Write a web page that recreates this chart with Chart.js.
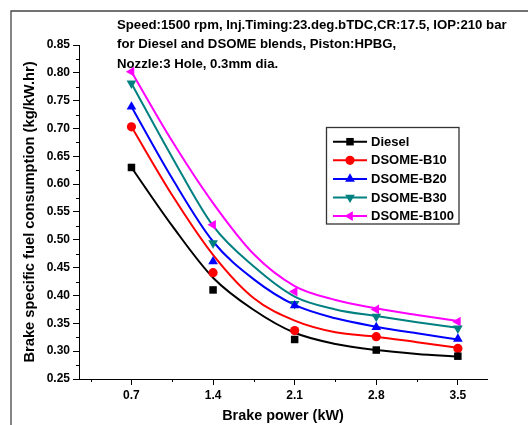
<!DOCTYPE html>
<html><head><meta charset="utf-8">
<script src="https://cdn.jsdelivr.net/npm/chart.js@4.4.0/dist/chart.umd.min.js"></script>
<style>html,body{margin:0;padding:0;background:#fff;}#wrap{position:relative;width:528px;height:425px;}</style>
</head><body><div id="wrap"><canvas id="c"></canvas></div>
<script>
// ---- data ----
const brakePower = [0.7, 1.4, 2.1, 2.8, 3.5];
const seriesNames = ['Diesel', 'DSOME-B10', 'DSOME-B20', 'DSOME-B30', 'DSOME-B100'];
const bsfcDiesel = [0.630, 0.410, 0.321, 0.302, 0.291];
const bsfcB10    = [0.703, 0.441, 0.337, 0.326, 0.305];
const bsfcB20    = [0.739, 0.461, 0.382, 0.343, 0.322];
const bsfcB30    = [0.781, 0.494, 0.385, 0.362, 0.341];
const bsfcB100   = [0.802, 0.527, 0.407, 0.375, 0.353];
// fitted curves (at these x positions)
const fitX       = [0.7, 1.05, 1.4, 1.75, 2.1, 2.45, 2.8, 3.15, 3.5];
const fitDiesel  = [0.630, 0.525, 0.432, 0.374, 0.333, 0.313, 0.302, 0.295, 0.290];
const fitB10     = [0.703, 0.580, 0.473, 0.395, 0.355, 0.334, 0.326, 0.316, 0.306];
const fitB20     = [0.739, 0.610, 0.497, 0.429, 0.383, 0.359, 0.344, 0.332, 0.321];
const fitB30     = [0.781, 0.648, 0.525, 0.452, 0.398, 0.375, 0.363, 0.352, 0.342];
const fitB100    = [0.802, 0.677, 0.566, 0.474, 0.417, 0.392, 0.377, 0.365, 0.354];
const xTicks = [0.7, 1.4, 2.1, 2.8, 3.5];
const xMinorTicks = [0.35, 1.05, 1.75, 2.45, 3.15];
const yTicks = [0.25, 0.30, 0.35, 0.40, 0.45, 0.50, 0.55, 0.60, 0.65, 0.70, 0.75, 0.80, 0.85];
const yMinorTicks = [0.275, 0.325, 0.375, 0.425, 0.475, 0.525, 0.575, 0.625, 0.675, 0.725, 0.775, 0.825];
const noteLines = ['Speed:1500 rpm, Inj.Timing:23.deg.bTDC,CR:17.5, IOP:210 bar',
                   'for Diesel and DSOME blends, Piston:HPBG,',
                   'Nozzle:3 Hole, 0.3mm dia.'];

const FONT = '"Liberation Sans", Arial, Helvetica, sans-serif';
const colors = ['#000000', '#ff0000', '#0000ff', '#008080', '#ff00ff'];
const styles = [
  {s: 'rect', r: 5.3, rot: 0},
  {s: 'circle', r: 4.6, rot: 0},
  {s: 'triangle', r: 5.6, rot: 0},
  {s: 'triangle', r: 5.6, rot: 180},
  {s: 'triangle', r: 5.6, rot: -90}
];
const markerSets = [bsfcDiesel, bsfcB10, bsfcB20, bsfcB30, bsfcB100];
const fitSets = [fitDiesel, fitB10, fitB20, fitB30, fitB100];

const datasets = [];
fitSets.forEach((arr, i) => {
  datasets.push({
    label: seriesNames[i] + ' fit', data: fitX.map((x, k) => ({x: x, y: arr[k]})),
    borderColor: colors[i], borderWidth: 2, pointRadius: 0, showLine: true, fill: false,
    cubicInterpolationMode: 'monotone', order: 2
  });
});
markerSets.forEach((arr, i) => {
  datasets.push({
    label: seriesNames[i], data: brakePower.map((x, k) => ({x: x, y: arr[k]})),
    showLine: false, pointStyle: styles[i].s, pointRadius: styles[i].r, pointRotation: styles[i].rot,
    pointBackgroundColor: colors[i], pointBorderColor: colors[i], pointBorderWidth: 0,
    pointHoverRadius: styles[i].r, borderColor: colors[i], backgroundColor: colors[i], order: 1
  });
});

function drawMarker(ctx, st, x, y, color) {
  ctx.save();
  ctx.fillStyle = color;
  ctx.beginPath();
  if (st.s === 'rect') {
    const h = st.r * Math.SQRT1_2;
    ctx.rect(x - h, y - h, 2 * h, 2 * h);
  } else if (st.s === 'circle') {
    ctx.arc(x, y, st.r, 0, Math.PI * 2);
  } else {
    let a = st.rot * Math.PI / 180;
    ctx.moveTo(x + Math.sin(a) * st.r, y - Math.cos(a) * st.r);
    a += 2 * Math.PI / 3;
    ctx.lineTo(x + Math.sin(a) * st.r, y - Math.cos(a) * st.r);
    a += 2 * Math.PI / 3;
    ctx.lineTo(x + Math.sin(a) * st.r, y - Math.cos(a) * st.r);
    ctx.closePath();
  }
  ctx.fill();
  ctx.restore();
}

const decor = {
  id: 'decor',
  afterDraw(chart) {
    const ctx = chart.ctx;
    const xs = chart.scales.x, ys = chart.scales.y;
    const ca = chart.chartArea;
    ctx.save();
    // outer frame
    ctx.strokeStyle = '#444'; ctx.lineWidth = 1.3;
    ctx.beginPath(); ctx.moveTo(11, 425); ctx.lineTo(11, 11); ctx.lineTo(528, 11); ctx.stroke();
    // minor ticks
    ctx.strokeStyle = '#000'; ctx.lineWidth = 1;
    ctx.beginPath();
    xMinorTicks.forEach(v => { const p = Math.round(xs.getPixelForValue(v)) + 0.5; ctx.moveTo(p, ca.bottom); ctx.lineTo(p, ca.bottom + 3); });
    yMinorTicks.forEach(v => { const p = Math.round(ys.getPixelForValue(v)) + 0.5; ctx.moveTo(ca.left, p); ctx.lineTo(ca.left - 3, p); });
    ctx.stroke();
    // annotation text
    ctx.fillStyle = '#000';
    ctx.font = 'bold 13.2px ' + FONT;
    ctx.textAlign = 'left'; ctx.textBaseline = 'alphabetic';
    const base = [28.5, 48, 67.5];
    noteLines.forEach((t, i) => ctx.fillText(t, 117, base[i]));
    // legend
    const L = 326.5, T = 127.5, R = 459, B = 224;
    ctx.fillStyle = '#fff'; ctx.fillRect(L, T, R - L, B - T);
    ctx.strokeStyle = '#333'; ctx.lineWidth = 1.3; ctx.strokeRect(L, T, R - L, B - T);
    ctx.font = 'bold 13px ' + FONT; ctx.textBaseline = 'middle';
    seriesNames.forEach((n, i) => {
      const y = 141.7 + i * 18.6;
      ctx.strokeStyle = colors[i]; ctx.lineWidth = 2;
      ctx.beginPath(); ctx.moveTo(333, y); ctx.lineTo(367, y); ctx.stroke();
      drawMarker(ctx, styles[i], 350, y, colors[i]);
      ctx.fillStyle = '#000';
      ctx.fillText(n, 371, y + 0.5);
    });
    ctx.restore();
  }
};

new Chart(document.getElementById('c'), {
  type: 'scatter',
  data: {datasets: datasets},
  options: {
    responsive: true, maintainAspectRatio: false, animation: false,
    layout: {padding: {left: 0, top: 45, right: 41, bottom: 0}},
    plugins: {legend: {display: false}, tooltip: {enabled: false}, title: {display: false}},
    scales: {
      x: {
        type: 'linear', min: 0.25, max: 3.75,
        afterBuildTicks: s => { s.ticks = xTicks.map(v => ({value: v})); },
        afterFit: s => { s.height = 46; },
        ticks: {callback: v => Number(v).toFixed(1), color: '#000', font: {family: FONT, weight: 'bold', size: 12}, padding: 3, maxRotation: 0, autoSkip: false},
        grid: {drawOnChartArea: false, drawTicks: true, tickLength: 6, tickColor: '#000', tickWidth: 1},
        border: {display: true, color: '#000', width: 1},
        title: {display: true, text: 'Brake power (kW)', color: '#000', font: {family: FONT, weight: 'bold', size: 14.4}, padding: {top: 0, bottom: 0}}
      },
      y: {
        type: 'linear', min: 0.25, max: 0.85,
        afterBuildTicks: s => { s.ticks = yTicks.map(v => ({value: v})); },
        afterFit: s => { s.width = 79; },
        ticks: {callback: v => Number(v).toFixed(2), color: '#000', font: {family: FONT, weight: 'bold', size: 12}, padding: 3, autoSkip: false},
        grid: {drawOnChartArea: false, drawTicks: true, tickLength: 6, tickColor: '#000', tickWidth: 1},
        border: {display: true, color: '#000', width: 1},
        title: {display: true, text: 'Brake specific fuel consumption (kg/kW.hr)', color: '#000', font: {family: FONT, weight: 'bold', size: 14.7}, padding: {top: 21, bottom: 0}}
      }
    }
  },
  plugins: [decor]
});
</script>
</body></html>
